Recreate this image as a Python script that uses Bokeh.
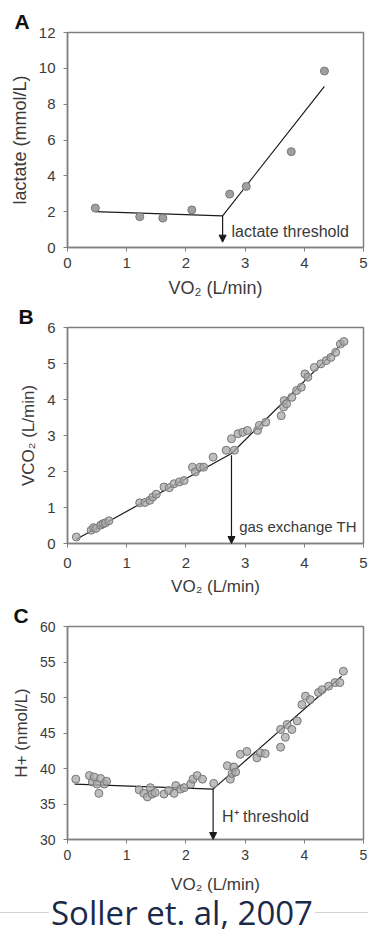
from bokeh.plotting import figure
from bokeh.layouts import column
from bokeh.models import Range1d, Arrow, NormalHead, Label, FixedTicker, Title, Div
from bokeh.embed import file_html
from bokeh.resources import INLINE

# ---- Panel A: blood lactate vs oxygen uptake ----
a_vo2 = [0.47, 1.22, 1.61, 2.10, 2.74, 3.02, 3.78, 4.34]
a_lactate = [2.20, 1.72, 1.64, 2.10, 2.98, 3.41, 5.35, 9.85]
a_fit_vo2 = [0.47, 2.62, 4.34]
a_fit_lactate = [2.00, 1.77, 8.99]
a_threshold = 2.62

# ---- Panel B: CO2 output vs oxygen uptake ----
b_vo2 = [0.15, 0.40, 0.44, 0.48, 0.56, 0.60, 0.64, 0.70,
         1.22, 1.31, 1.39, 1.44, 1.50, 1.63, 1.72, 1.80, 1.89, 1.97,
         2.11, 2.16, 2.24, 2.30, 2.46, 2.68, 2.77, 2.82, 2.88, 2.96, 3.04,
         3.21, 3.24, 3.35, 3.61, 3.65, 3.66, 3.70, 3.79, 3.87, 3.95,
         4.01, 4.06, 4.17, 4.28, 4.37, 4.45, 4.53, 4.61, 4.67]
b_vco2 = [0.18, 0.37, 0.44, 0.42, 0.51, 0.55, 0.57, 0.63,
          1.13, 1.14, 1.20, 1.29, 1.37, 1.57, 1.55, 1.66, 1.71, 1.75,
          2.12, 1.99, 2.12, 2.12, 2.40, 2.59, 2.91, 2.59, 3.05, 3.09, 3.14,
          3.14, 3.28, 3.37, 3.55, 3.79, 3.97, 3.88, 4.06, 4.25, 4.34,
          4.71, 4.62, 4.89, 4.99, 5.08, 5.17, 5.31, 5.54, 5.61]
b_fit_vo2 = [0.15, 2.77, 4.67]
b_fit_vco2 = [0.12, 2.50, 5.60]
b_threshold = 2.77

# ---- Panel C: plasma H+ vs oxygen uptake ----
c_vo2 = [0.14, 0.37, 0.42, 0.45, 0.50, 0.53, 0.56, 0.62, 0.66,
         1.21, 1.29, 1.35, 1.40, 1.43, 1.48, 1.63, 1.71, 1.80, 1.83, 1.91, 1.97,
         2.08, 2.12, 2.19, 2.28, 2.47, 2.70, 2.75, 2.78, 2.81, 2.84,
         2.92, 3.03, 3.20, 3.26, 3.34, 3.60, 3.60, 3.68, 3.71, 3.79, 3.88,
         3.96, 4.02, 4.10, 4.24, 4.30, 4.41, 4.52, 4.60, 4.66]
c_h = [38.5, 39.0, 38.1, 38.8, 37.8, 36.5, 38.6, 37.8, 38.2,
       37.0, 36.5, 36.0, 37.3, 36.4, 36.6, 36.4, 36.9, 36.5, 37.6, 37.1, 37.3,
       37.8, 38.5, 39.0, 38.5, 37.9, 40.4, 38.5, 39.3, 40.2, 39.5,
       42.0, 42.4, 41.5, 42.2, 42.1, 43.0, 45.5, 44.4, 46.2, 45.5, 46.7,
       49.0, 50.2, 49.7, 50.7, 51.1, 51.6, 52.1, 52.1, 53.7]
c_fit_vo2 = [0.12, 2.46, 4.63]
c_fit_h = [37.8, 37.1, 53.0]
c_threshold = 2.46

x_ticks = [0, 1, 2, 3, 4, 5]
a_ticks = [0, 2, 4, 6, 8, 10, 12]
b_ticks = [0, 1, 2, 3, 4, 5, 6]
c_ticks = [30, 35, 40, 45, 50, 55, 60]

citation = "Soller et. al, 2007"

FONT = "Liberation Sans"
GREY = "#808080"
TEXT = "#3a3a3a"


def panel(letter, letter_offset, height, borders, y_range, y_ticks, y_label,
          tick_px, label_px, tick_standoff, label_standoff):
    left, top, bottom = borders
    p = figure(width=368, height=height, output_backend="svg", toolbar_location=None,
               x_range=Range1d(0, 5), y_range=Range1d(*y_range),
               min_border_left=left, min_border_right=5,
               min_border_top=top, min_border_bottom=bottom)
    p.grid.visible = False
    p.outline_line_color = GREY
    p.outline_line_width = 1.5
    p.background_fill_color = "white"
    p.border_fill_color = "white"
    for ax in (p.xaxis[0], p.yaxis[0]):
        ax.axis_line_color = GREY
        ax.axis_line_width = 1.5
        ax.major_tick_line_color = GREY
        ax.major_tick_out = 4
        ax.major_tick_in = 0
        ax.minor_tick_line_color = None
        ax.major_label_text_font = FONT
        ax.major_label_text_font_size = f"{tick_px}px"
        ax.major_label_text_color = TEXT
        ax.axis_label_text_font = FONT
        ax.axis_label_text_font_size = f"{label_px}px"
        ax.axis_label_text_font_style = "normal"
        ax.axis_label_text_color = TEXT
    p.xaxis.ticker = FixedTicker(ticks=x_ticks)
    p.yaxis.ticker = FixedTicker(ticks=y_ticks)
    p.xaxis.axis_label = "VO\u2082 (L/min)"
    p.yaxis.axis_label = y_label
    p.xaxis.major_label_standoff = tick_standoff
    p.xaxis.axis_label_standoff = label_standoff
    p.yaxis.major_label_standoff = 8
    p.yaxis.axis_label_standoff = 6
    # panel letter sits in the top border, pulled left over the y axis
    p.title = Title(text=letter, text_font=FONT, text_font_size="21px",
                    text_font_style="bold", text_color="#111111",
                    align="left", offset=letter_offset, standoff=0)
    return p


def scatter(p, xs, ys, size, fill, alpha):
    p.scatter(xs, ys, size=size, marker="circle", fill_color=fill,
              fill_alpha=alpha, line_color="#777777", line_width=1)


def fit(p, xs, ys):
    p.line(xs, ys, line_color="#1a1a1a", line_width=1.2)


def threshold_arrow(p, x, y_start, y_end):
    p.add_layout(Arrow(x_start=x, y_start=y_start, x_end=x, y_end=y_end,
                       line_color="#1a1a1a", line_width=1.2,
                       end=NormalHead(size=7, fill_color="#1a1a1a",
                                      line_color="#1a1a1a")))


def note(p, x, y, text, font_px):
    p.add_layout(Label(x=x, y=y, text=text, text_font=FONT,
                       text_font_size=f"{font_px}px", text_color=TEXT,
                       text_baseline="middle"))


# Panel A
pa = panel("A", -53, 300, (66, 32, 53), (0, 12), a_ticks, "lactate (mmol/L)",
           15, 18, 6, 7)
fit(pa, a_fit_vo2, a_fit_lactate)
scatter(pa, a_vo2, a_lactate, 8, "#a0a0a0", 1.0)
threshold_arrow(pa, a_threshold, a_fit_lactate[1], 0.3)
note(pa, a_threshold + 0.15, 0.9, "lactate threshold", 16)

# Panel B
pb = panel("B", -49, 301, (62, 27, 58), (0, 6), b_ticks, "VCO\u2082 (L/min)",
           15, 17, 10, 6)
fit(pb, b_fit_vo2, b_fit_vco2)
scatter(pb, b_vo2, b_vco2, 8, "#a8a8a8", 0.75)
threshold_arrow(pb, b_threshold, b_fit_vco2[1] - 0.05, 0.0)
note(pb, b_threshold + 0.13, 0.46, "gas exchange TH", 15)

# Panel C
pc = panel("C", -54, 297, (67, 24, 59), (30, 60), c_ticks, "H+ (nmol/L)",
           14, 17, 6, 12)
fit(pc, c_fit_vo2, c_fit_h)
scatter(pc, c_vo2, c_h, 8, "#a8a8a8", 0.75)
threshold_arrow(pc, c_threshold, c_fit_h[1], 30)
note(pc, c_threshold + 0.15, 33.2, "H\u207a threshold", 16)

# Citation strip: thin rule with the reference text laid over it
caption_html = (
    '<div style="position:relative;width:368px;height:36px;overflow:visible;">'
    '<div style="position:absolute;left:0;top:14px;width:368px;height:0;'
    'border-top:1px solid #d4d4d4;"></div>'
    '<div style="position:absolute;left:0;top:-2px;width:364px;text-align:center;">'
    '<span style="display:inline-block;font-family:\'Open Sans\';font-size:33px;'
    'line-height:33px;height:33px;color:#1c2a4a;background:white;padding:0 2px;">'
    + citation +
    '</span></div></div>'
)
cap = Div(text=caption_html, width=368, height=36, margin=(0, 0, 0, 0))

layout = column(pa, pb, pc, cap, spacing=0)
open("out.html", "w").write(file_html(layout, INLINE))
